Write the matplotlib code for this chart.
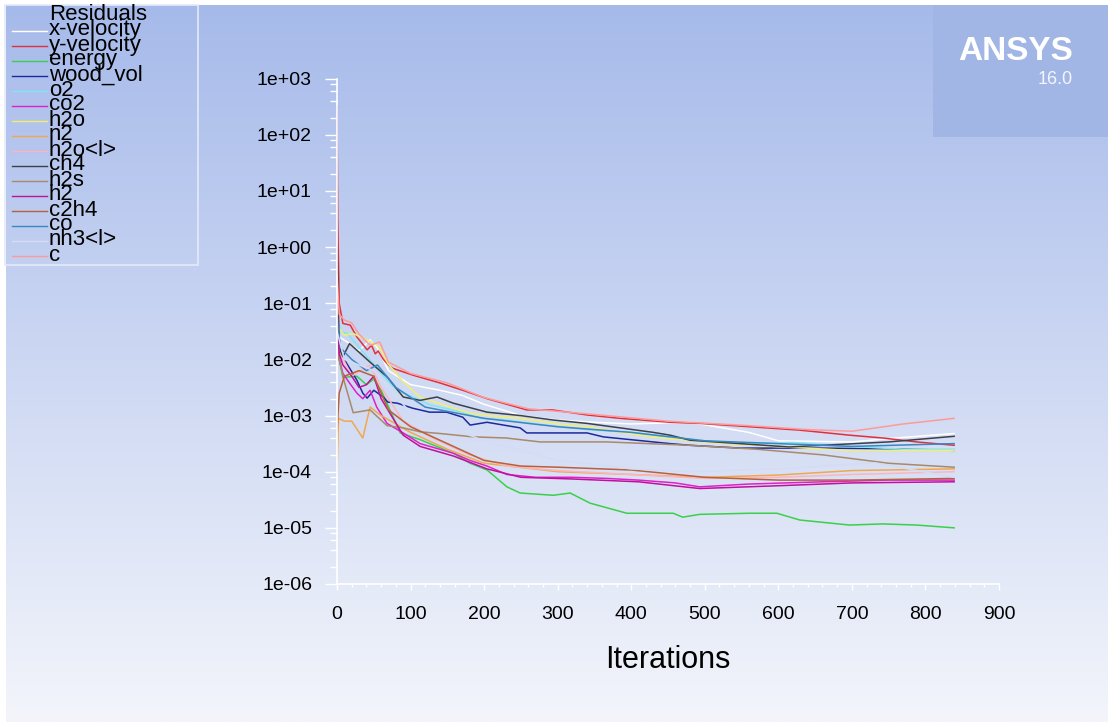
import numpy as np
import matplotlib
matplotlib.use("Agg")
import matplotlib.pyplot as plt
from matplotlib.lines import Line2D
from matplotlib.patches import Rectangle
from matplotlib.ticker import FuncFormatter, LogLocator, MultipleLocator

W, H = 1108, 722

# residual histories: iteration -> log10(residual)
x_velocity_it = [0, 3, 15, 30, 45, 55, 70, 100, 140, 170, 200, 250, 300, 350, 400, 480, 560, 600, 700, 760, 839]
x_velocity_log = [-1.0, -1.6, -1.7, -1.85, -1.65, -1.8, -2.2, -2.45, -2.55, -2.64, -2.8, -3.0, -3.08, -3.12,
                  -3.15, -3.12, -3.3, -3.45, -3.47, -3.4, -3.32]

y_velocity_it = [0, 1, 3, 8, 18, 27, 41, 47, 52, 56, 63, 70, 76, 103, 140, 171, 204, 258, 293, 340, 385, 453,
                 493, 561, 629, 697, 742, 788, 839]
y_velocity_log = [2.5, 0.5, -1.0, -1.36, -1.39, -1.6, -1.83, -1.75, -1.9, -1.85, -2.0, -2.1, -2.16, -2.28,
                  -2.42, -2.55, -2.7, -2.9, -2.9, -2.99, -3.05, -3.12, -3.14, -3.2, -3.26, -3.35, -3.4, -3.47, -3.53]

energy_it = [0, 3, 8, 27, 40, 50, 60, 86, 113, 158, 181, 204, 231, 249, 294, 317, 344, 394, 457, 470, 493,
             561, 598, 629, 674, 697, 742, 788, 839]
energy_log = [-1.4, -2.0, -2.32, -2.3, -2.45, -2.35, -2.55, -3.31, -3.43, -3.67, -3.85, -3.97, -4.27, -4.38,
              -4.42, -4.38, -4.56, -4.74, -4.74, -4.81, -4.76, -4.74, -4.74, -4.86, -4.92, -4.95, -4.93, -4.95, -5.0]

wood_vol_it = [0, 2, 5, 8, 27, 35, 41, 50, 63, 69, 82, 103, 126, 149, 171, 181, 204, 249, 258, 294, 340, 362,
               430, 453, 480, 548, 660, 775, 839]
wood_vol_log = [-0.9, -1.5, -1.9, -1.96, -2.37, -2.6, -2.69, -2.55, -2.67, -2.76, -2.78, -2.87, -2.94, -2.94,
                -3.03, -3.17, -3.12, -3.22, -3.31, -3.31, -3.31, -3.38, -3.47, -3.5, -3.53, -3.58, -3.58, -3.6, -3.62]

o2_it = [0, 5, 15, 31, 49, 68, 82, 103, 126, 171, 195, 230, 270, 340, 400, 450, 500, 560, 620, 700, 770, 839]
o2_log = [-1.2, -1.5, -1.55, -1.8, -2.07, -2.37, -2.55, -2.67, -2.81, -2.94, -3.05, -3.08, -3.15, -3.25, -3.3,
          -3.38, -3.45, -3.5, -3.48, -3.55, -3.6, -3.6]

co2_it = [0, 3, 8, 17, 27, 35, 45, 54, 68, 90, 113, 158, 181, 204, 231, 270, 320, 367, 410, 460, 493, 560,
          660, 750, 839]
co2_log = [-0.9, -2.0, -2.25, -2.42, -2.6, -2.7, -2.55, -2.85, -3.14, -3.31, -3.5, -3.67, -3.8, -3.9, -4.05,
           -4.1, -4.1, -4.12, -4.15, -4.2, -4.27, -4.22, -4.18, -4.15, -4.15]

h2o_it = [0, 10, 22, 35, 49, 58, 69, 90, 113, 158, 181, 204, 249, 300, 340, 426, 517, 607, 697, 839]
h2o_log = [-1.4, -1.57, -1.54, -1.62, -1.7, -1.78, -2.07, -2.4, -2.67, -2.87, -2.96, -3.0, -3.05, -3.15, -3.2,
           -3.38, -3.49, -3.56, -3.62, -3.62]

n2_it = [0, 2, 10, 20, 35, 45, 60, 100, 150, 200, 300, 400, 500, 600, 700, 839]
n2_log = [-4.0, -3.05, -3.1, -3.1, -3.4, -2.85, -3.0, -3.3, -3.6, -3.85, -4.0, -4.05, -4.1, -4.06, -3.98, -3.95]

h2o_l_it = [0, 5, 20, 45, 60, 90, 130, 180, 230, 300, 400, 500, 600, 700, 839]
h2o_l_log = [-1.7, -1.9, -2.3, -2.1, -2.5, -3.1, -3.4, -3.7, -3.9, -3.98, -4.05, -4.12, -4.1, -4.05, -4.0]

ch4_it = [0, 1, 3, 8, 17, 45, 68, 90, 113, 136, 158, 204, 249, 294, 340, 430, 453, 480, 615, 750, 839]
ch4_log = [0.0, -0.5, -1.8, -1.95, -1.72, -2.05, -2.31, -2.67, -2.73, -2.67, -2.78, -2.94, -3.0, -3.08, -3.14,
           -3.3, -3.35, -3.44, -3.56, -3.47, -3.37]

h2s_it = [0, 3, 10, 22, 45, 68, 90, 113, 140, 185, 230, 276, 367, 480, 570, 660, 750, 839]
h2s_log = [-1.1, -2.0, -2.4, -2.95, -2.9, -3.18, -3.22, -3.29, -3.32, -3.38, -3.4, -3.47, -3.47, -3.53, -3.6,
           -3.7, -3.85, -3.92]

h2_it = [0, 3, 8, 20, 30, 40, 50, 60, 90, 113, 158, 204, 250, 320, 410, 493, 600, 700, 839]
h2_log = [-1.2, -1.9, -2.1, -2.3, -2.5, -2.45, -2.3, -2.7, -3.35, -3.55, -3.72, -3.95, -4.1, -4.13, -4.18,
          -4.3, -4.25, -4.2, -4.18]

c2h4_it = [0, 3, 10, 30, 50, 70, 100, 150, 200, 250, 300, 400, 500, 600, 700, 839]
c2h4_log = [-3.3, -2.6, -2.3, -2.2, -2.3, -2.9, -3.2, -3.5, -3.8, -3.9, -3.92, -3.97, -4.1, -4.15, -4.15, -4.12]

co_it = [0, 5, 20, 40, 55, 80, 120, 200, 300, 400, 500, 600, 700, 839]
co_log = [-1.3, -1.8, -2.0, -2.2, -2.1, -2.5, -2.85, -3.05, -3.2, -3.3, -3.45, -3.5, -3.55, -3.5]

nh3_l_it = [0, 10, 50, 100, 200, 300, 400, 480, 617, 730, 839]
nh3_l_log = [-1.5, -2.0, -2.2, -2.95, -3.45, -3.8, -3.95, -4.0, -3.94, -3.84, -4.1]

c_it = [0, 3, 10, 20, 30, 45, 58, 70, 100, 150, 200, 260, 340, 450, 560, 640, 700, 770, 839]
c_log = [-0.5, -1.2, -1.3, -1.35, -1.55, -1.75, -1.69, -2.05, -2.25, -2.42, -2.68, -2.88, -2.97, -3.1, -3.18,
         -3.25, -3.28, -3.15, -3.05]

names = ["x-velocity", "y-velocity", "energy", "wood_vol", "o2", "co2", "h2o", "n2", "h2o<l>",
         "ch4", "h2s", "h2", "c2h4", "co", "nh3<l>", "c"]
colors = ["#ffffff", "#e0303c", "#3ad04a", "#1c2a9c", "#7fe6f2", "#e020c8", "#f0f070", "#f0a850",
          "#ffb4bc", "#3c4048", "#a88a6a", "#c0109c", "#b8603c", "#3c86c4", "#d4dcf6", "#ff9a9a"]
series = [(x_velocity_it, x_velocity_log), (y_velocity_it, y_velocity_log), (energy_it, energy_log),
          (wood_vol_it, wood_vol_log), (o2_it, o2_log), (co2_it, co2_log), (h2o_it, h2o_log),
          (n2_it, n2_log), (h2o_l_it, h2o_l_log), (ch4_it, ch4_log), (h2s_it, h2s_log), (h2_it, h2_log),
          (c2h4_it, c2h4_log), (co_it, co_log), (nh3_l_it, nh3_l_log), (c_it, c_log)]

plt.rcParams['font.family'] = ['Liberation Sans', 'DejaVu Sans']

fig = plt.figure(figsize=(W / 100, H / 100), dpi=100, facecolor="white")


def fx(px):
    return px / W


def fy(py):
    return 1 - py / H


# background gradient, blue at the top fading to near white
bg = fig.add_axes([fx(6), 0, 1 - fx(6), fy(5)], zorder=0)
top = np.array([166, 186, 234]) / 255
bot = np.array([243, 245, 251]) / 255
t = np.linspace(0, 1, 256)[:, None]
grad = top[None, :] * (1 - t) + bot[None, :] * t
bg.imshow(grad[:, None, :], aspect="auto", extent=[0, 1, 0, 1])
bg.set_axis_off()

# ANSYS logo box
fig.patches.append(Rectangle((fx(933), fy(137)), fx(1108) - fx(933), fy(5) - fy(137),
                             transform=fig.transFigure, facecolor="#a2b6e6", edgecolor="none", zorder=1))
fig.text(fx(1073), fy(52), "ANSYS", color="white", fontsize=24, fontweight="bold",
         ha="right", va="center", zorder=2)
fig.text(fx(1073), fy(80), "16.0", color="#f2f5fc", fontsize=13, ha="right", va="center", zorder=2)

ax = fig.add_axes([fx(337), fy(584), fx(999) - fx(337), fy(78.6) - fy(584)], zorder=3)
ax.patch.set_alpha(0)

for (it, lg), col in zip(series, colors):
    ax.plot(it, 10.0 ** np.array(lg), color=col, lw=1.1)

ax.set_yscale("log")
ax.set_ylim(1e-6, 1e3)
ax.set_xlim(0, 900)
ax.yaxis.set_major_locator(LogLocator(base=10, numticks=12))
ax.yaxis.set_minor_locator(LogLocator(base=10, subs=(2, 4, 6, 8), numticks=12))
ax.yaxis.set_major_formatter(FuncFormatter(lambda v, p: f"{v:.0e}"))
ax.xaxis.set_major_locator(MultipleLocator(100))
ax.xaxis.set_minor_locator(MultipleLocator(20))

for s in ["top", "right"]:
    ax.spines[s].set_visible(False)
for s in ["left", "bottom"]:
    ax.spines[s].set_color("white")
    ax.spines[s].set_linewidth(1.2)

ax.tick_params(axis="y", which="major", length=9, width=1, color="white", pad=9, labelsize=14,
               labelcolor="black")
ax.tick_params(axis="y", which="minor", length=5, width=1, color="white")
ax.tick_params(axis="x", which="major", length=4, width=1, color="white", pad=12, labelsize=14,
               labelcolor="black")
ax.tick_params(axis="x", which="minor", length=2, width=1, color="white")
ax.set_xlabel("Iterations", fontsize=22, labelpad=16)

# legend box drawn like the solver's overlapping list
fig.patches.append(Rectangle((fx(5), fy(265)), fx(198) - fx(5), fy(5) - fy(265),
                             transform=fig.transFigure, facecolor="none", edgecolor="#e4eaf8",
                             lw=1.2, zorder=4))
fig.text(fx(49), fy(15), "Residuals", fontsize=16, ha="left", va="center", zorder=5)
for i, (name, col) in enumerate(zip(names, colors)):
    yy = 30 + 15 * i
    fig.lines.append(Line2D([fx(12), fx(47)], [fy(yy + 1), fy(yy + 1)], color=col, lw=1.0,
                            transform=fig.transFigure, zorder=4))
    fig.text(fx(49), fy(yy), name, fontsize=16, ha="left", va="center", zorder=5)

fig.savefig("out.png", dpi=100, facecolor=fig.get_facecolor())
